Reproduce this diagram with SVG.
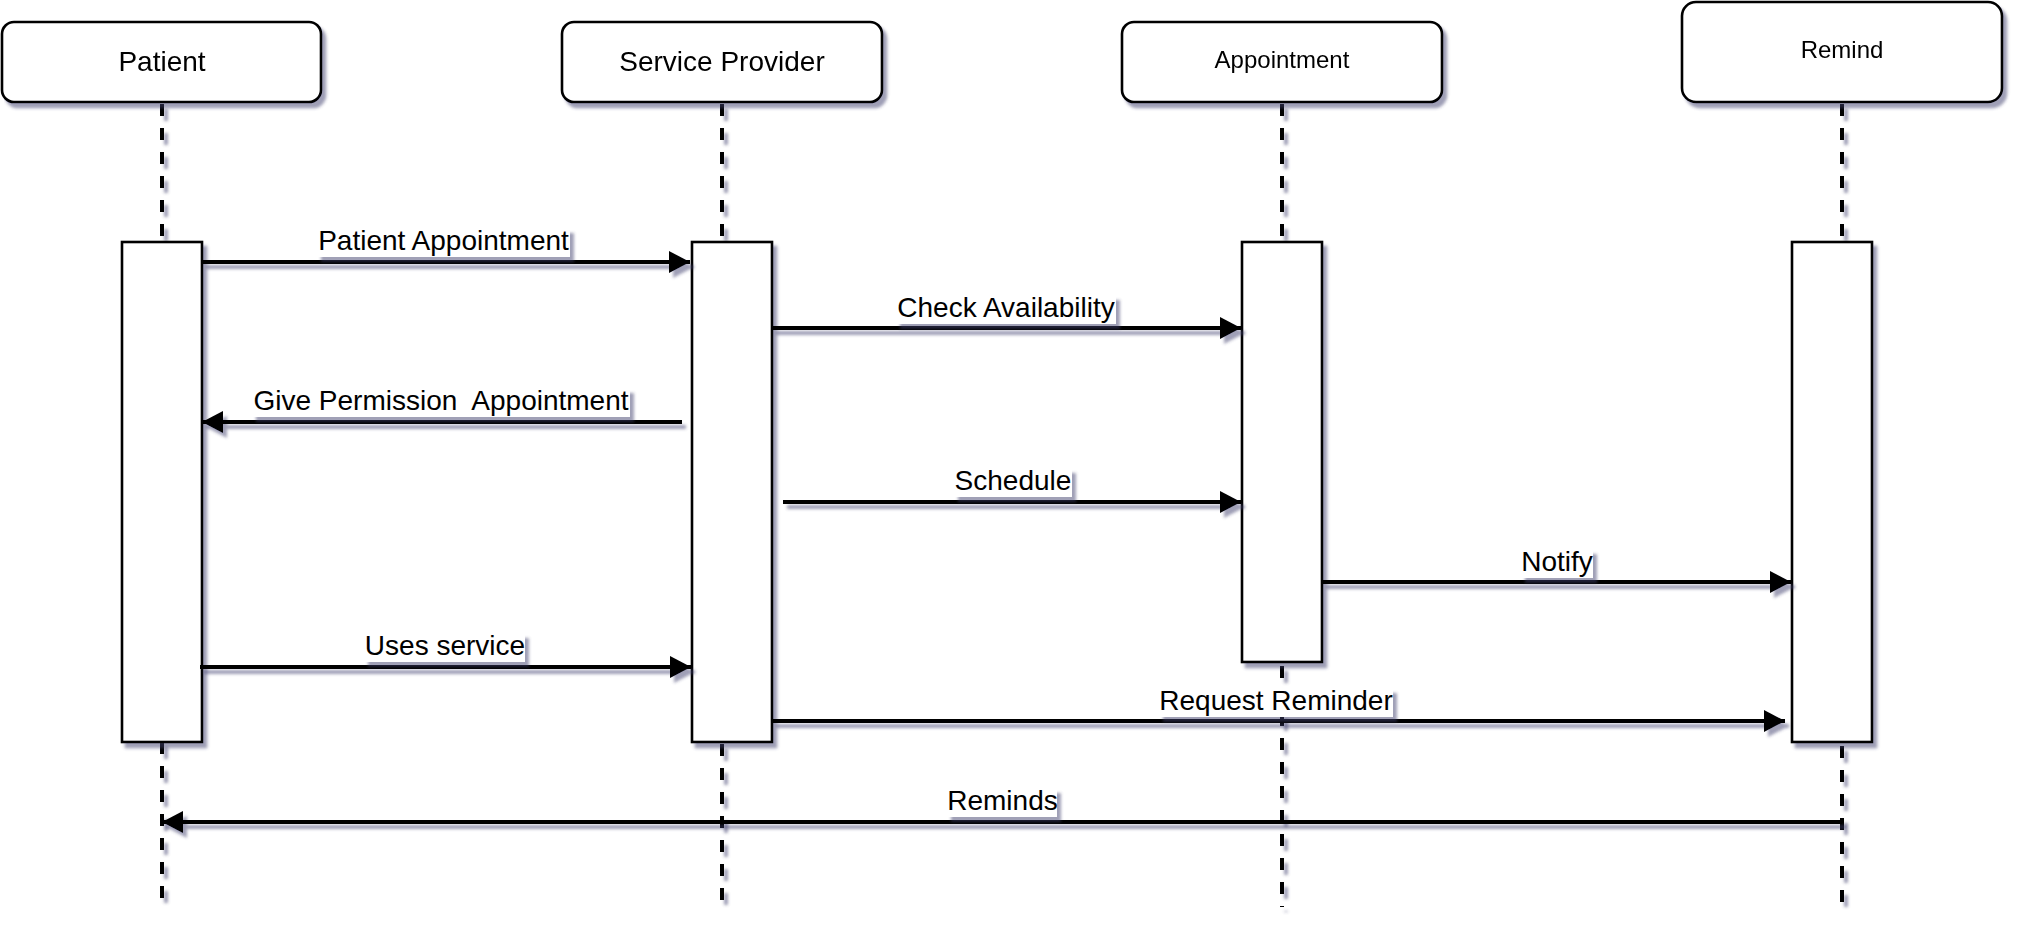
<svg xmlns="http://www.w3.org/2000/svg" width="2022" height="928" viewBox="0 0 2022 928">
<defs>
<filter id="sh" filterUnits="userSpaceOnUse" x="0" y="0" width="2022" height="928">
<feGaussianBlur in="SourceAlpha" stdDeviation="1.4"/>
<feOffset dx="4" dy="5" result="o"/>
<feFlood flood-color="#40406e" flood-opacity="0.5"/>
<feComposite in2="o" operator="in"/>
<feMerge><feMergeNode/><feMergeNode in="SourceGraphic"/></feMerge>
</filter>
<marker id="ah" markerUnits="userSpaceOnUse" markerWidth="24" markerHeight="24" refX="21" refY="11" orient="auto" overflow="visible">
<path d="M0,0 L21,11 L0,22 Z" fill="#000"/>
</marker>
<style>
.hd{fill:#fff;stroke:#000;stroke-width:2.6}
.act{fill:#fff;stroke:#000;stroke-width:2.6}
.life{fill:none;stroke:#000;stroke-width:4;stroke-dasharray:12 12}
.msg{fill:none;stroke:#000;stroke-width:4;marker-end:url(#ah)}
.t{font-family:"Liberation Sans",Arial,sans-serif;fill:#000;text-anchor:middle}
.big{font-size:28px}
.small{font-size:24px}
.lbg{fill:#fff}
</style>
</defs>
<rect width="2022" height="928" fill="#fff"/>

<g id="lifelines" filter="url(#sh)">
<line class="life" x1="162" y1="104" x2="162" y2="242"/>
<line class="life" x1="162" y1="742" x2="162" y2="900"/>
<line class="life" x1="722" y1="104" x2="722" y2="238"/>
<line class="life" x1="722" y1="744" x2="722" y2="905"/>
<line class="life" x1="1282" y1="104" x2="1282" y2="238"/>
<line class="life" x1="1282" y1="666" x2="1282" y2="907"/>
<line class="life" x1="1842" y1="104" x2="1842" y2="238"/>
<line class="life" x1="1842" y1="746" x2="1842" y2="907"/>
</g>

<g id="patient" filter="url(#sh)">
<rect class="hd" x="2" y="22" width="319" height="80" rx="12"/>
<text class="t big" x="162" y="71">Patient</text>
<rect class="act" x="122" y="242" width="80" height="500"/>
</g>
<g id="service-provider" filter="url(#sh)">
<rect class="hd" x="562" y="22" width="320" height="80" rx="12"/>
<text class="t big" x="722" y="71">Service Provider</text>
<rect class="act" x="692" y="242" width="80" height="500"/>
</g>
<g id="appointment" filter="url(#sh)">
<rect class="hd" x="1122" y="22" width="320" height="80" rx="12"/>
<text class="t small" x="1282" y="68">Appointment</text>
<rect class="act" x="1242" y="242" width="80" height="420"/>
</g>
<g id="remind" filter="url(#sh)">
<rect class="hd" x="1682" y="2" width="320" height="100" rx="14"/>
<text class="t small" x="1842" y="58">Remind</text>
<rect class="act" x="1792" y="242" width="80" height="500"/>
</g>

<g id="connectors" filter="url(#sh)">
<line class="msg" x1="202" y1="262" x2="690" y2="262"/>
<line class="msg" x1="772" y1="328" x2="1241" y2="328"/>
<line class="msg" x1="682" y1="422" x2="202" y2="422"/>
<line class="msg" x1="783" y1="502" x2="1241" y2="502"/>
<line class="msg" x1="1322" y1="582" x2="1791" y2="582"/>
<line class="msg" x1="200" y1="667" x2="691" y2="667"/>
<line class="msg" x1="772" y1="721" x2="1785" y2="721"/>
<line class="msg" x1="1842" y1="822" x2="162" y2="822"/>
</g>

<g id="labels">
<g filter="url(#sh)">
<rect class="lbg" x="317" y="228" width="253" height="29"/>
<rect class="lbg" x="896" y="295" width="220" height="29"/>
<rect class="lbg" x="252" y="388" width="378" height="29"/>
<rect class="lbg" x="954" y="468" width="118" height="29"/>
<rect class="lbg" x="1521" y="549" width="72" height="29"/>
<rect class="lbg" x="364" y="633" width="161" height="29"/>
<rect class="lbg" x="1159" y="688" width="234" height="29"/>
<rect class="lbg" x="947" y="788" width="110" height="29"/>
</g>
<text class="t big" x="443.5" y="250">Patient Appointment</text>
<text class="t big" x="1006" y="317">Check Availability</text>
<text class="t big" x="441" y="410" xml:space="preserve">Give Permission  Appointment</text>
<text class="t big" x="1013" y="490">Schedule</text>
<text class="t big" x="1557" y="571">Notify</text>
<text class="t big" x="445" y="655">Uses service</text>
<text class="t big" x="1276" y="710">Request Reminder</text>
<text class="t big" x="1002.5" y="810">Reminds</text>
</g>
</svg>
